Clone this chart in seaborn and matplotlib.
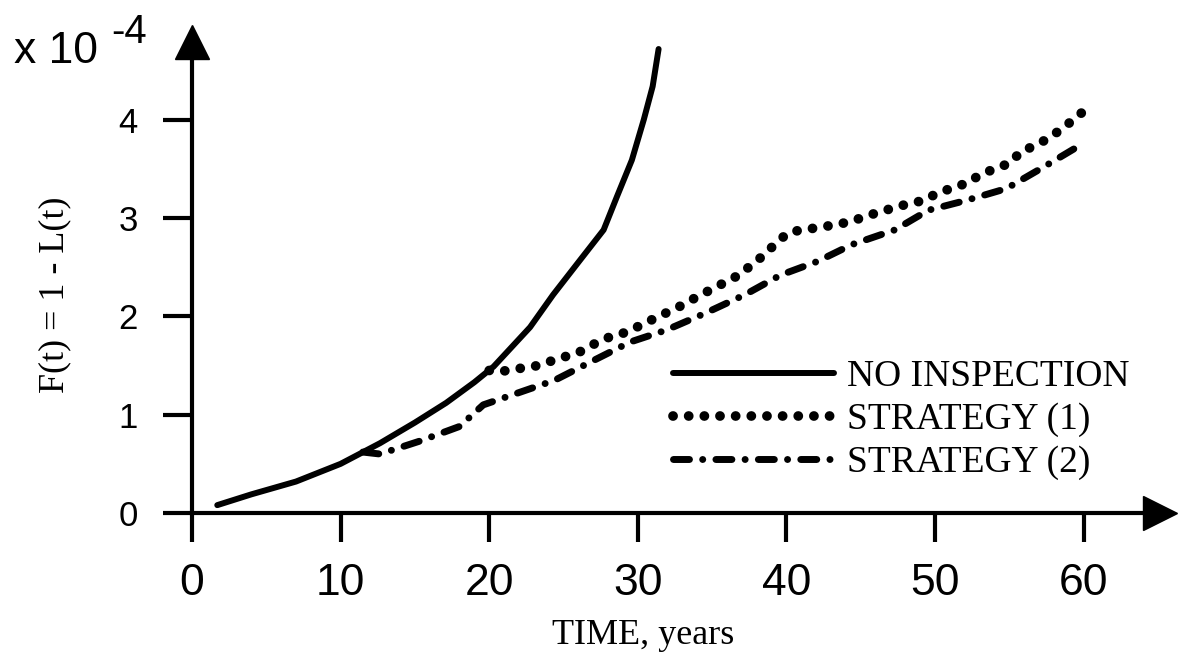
import matplotlib
matplotlib.use("Agg")
import matplotlib.pyplot as plt
import seaborn as sns

# F(t) = 1 - L(t), units of 1e-4
t_none = [1.7, 4, 7, 10, 12.65, 15, 17.1, 19, 20.3, 22.75, 24.3, 26.1, 27.7, 28.6, 29.6, 30.4, 31.0, 31.4]
f_none = [0.08, 0.19, 0.32, 0.50, 0.71, 0.92, 1.12, 1.33, 1.49, 1.89, 2.22, 2.57, 2.88, 3.22, 3.59, 4.00, 4.34, 4.72]

t_s1 = [20.0, 20.8, 22.0, 23.0, 25.1, 26.1, 27.2, 28.1, 29.25, 31.0, 32.8, 34.0, 36.8, 38.45, 39.2, 40.1,
        41.0, 42.0, 43.2, 44.2, 45.2, 46.2, 48.3, 49.3, 50.2, 51.3, 52.35, 53.0, 54.0, 55.05, 55.8, 56.8,
        57.7, 58.75, 59.5, 60.4]
f_s1 = [1.45, 1.44, 1.47, 1.49, 1.59, 1.64, 1.73, 1.79, 1.84, 1.97, 2.10, 2.20, 2.42, 2.62, 2.73, 2.85,
        2.88, 2.90, 2.93, 2.96, 3.01, 3.06, 3.15, 3.18, 3.26, 3.31, 3.37, 3.44, 3.50, 3.56, 3.68, 3.74,
        3.82, 3.93, 4.03, 4.13]

t_s2 = [11.5, 12.65, 15.3, 18.0, 19.6, 22.1, 24.4, 27.0, 29.5, 31.9, 34.5, 37.2, 39.6, 42.1, 44.4, 47.3,
        49.55, 52.1, 54.8, 57.2, 59.75]
f_s2 = [0.62, 0.60, 0.73, 0.88, 1.10, 1.23, 1.35, 1.55, 1.74, 1.86, 2.03, 2.22, 2.42, 2.56, 2.73, 2.88,
        3.08, 3.18, 3.30, 3.51, 3.74]

labels = ["NO INSPECTION", "STRATEGY (1)", "STRATEGY (2)"]
xticks = [0, 10, 20, 30, 40, 50, 60]
yticks = [0, 1, 2, 3, 4]

sns.set_style("ticks")
plt.rcParams["font.family"] = ["Liberation Sans", "DejaVu Sans"]
plt.rcParams["text.color"] = "black"
plt.rcParams["xtick.color"] = "black"
plt.rcParams["ytick.color"] = "black"

W, H = 1181, 665
fig = plt.figure(figsize=(W / 100, H / 100), dpi=100)
ax = fig.add_axes([192 / W, (H - 513) / H, (1160 - 192) / W, (513 - 42) / H])

sns.lineplot(x=t_none, y=f_none, ax=ax, color="black", lw=4.3, label=labels[0])
sns.lineplot(x=t_s1, y=f_s1, ax=ax, color="black", lw=7, label=labels[1],
             linestyle=(0, (0.01, 1.6)), dash_capstyle="round")
sns.lineplot(x=t_s2, y=f_s2, ax=ax, color="black", lw=5, label=labels[2],
             linestyle=(0, (2.3, 1.9, 0.01, 1.9)), dash_capstyle="round")

ax.set_xlim(0, (1160 - 192) / 14.86)
ax.set_ylim(0, (513 - 42) / 98.3)
ax.set_xticks(xticks)
ax.set_yticks(yticks)
ax.tick_params(axis="x", length=21, width=3, pad=15, labelsize=32, direction="out")
ax.tick_params(axis="y", length=21, width=3, pad=18, labelsize=25, direction="out")

for side in ["top", "right"]:
    ax.spines[side].set_visible(False)
for side in ["left", "bottom"]:
    ax.spines[side].set_linewidth(3)
    ax.spines[side].set_color("black")

# arrow heads on the axes
ax.plot(1, 0, ">", color="black", ms=24, transform=ax.transAxes, clip_on=False)
ax.plot(0, 1, "^", color="black", ms=24, transform=ax.transAxes, clip_on=False)

ax.set_xlabel("")
ax.set_ylabel("")
fig.text(643 / W, 1 - 636 / H, "TIME, years", family="Liberation Serif", fontsize=26,
         ha="center", va="center")
fig.text(55 / W, 1 - 295 / H, "F(t) = 1 - L(t)", family="Liberation Serif", fontsize=26,
         rotation=90, ha="center", va="center")

# exponent label at top-left
fig.text(14 / W, 1 - 63 / H, "x 10", fontsize=32, ha="left", va="baseline")
fig.text(111 / W, 1 - 43 / H, "-4", fontsize=29, ha="left", va="baseline")

leg = ax.legend(loc="upper left", bbox_to_anchor=(673 / W, 1 - 360 / H),
                bbox_transform=fig.transFigure, frameon=False, borderpad=0, borderaxespad=0,
                handlelength=4.3, handletextpad=0.35, labelspacing=0.22,
                prop={"family": "Liberation Serif", "size": 27})

fig.savefig("out.png", dpi=100)
